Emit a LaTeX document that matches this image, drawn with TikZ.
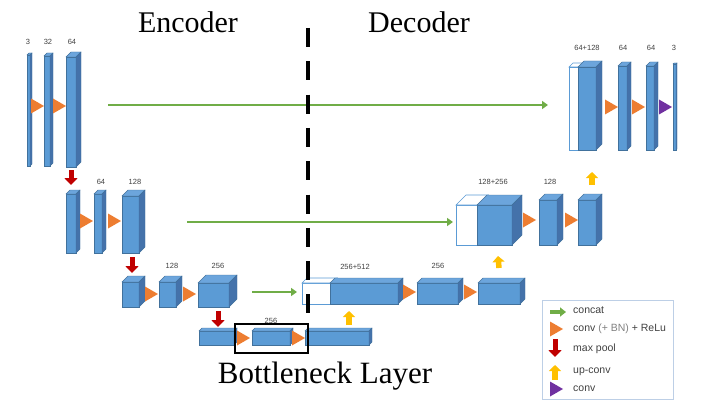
\documentclass[tikz,border=0pt]{standalone}
\usepackage{fontspec}
\setmainfont{Liberation Serif}
\setsansfont{Liberation Sans}
\usetikzlibrary{arrows.meta}
\definecolor{unetblue}{RGB}{91,155,213}
\definecolor{unettop}{RGB}{108,165,220}
\definecolor{unetside}{RGB}{68,114,170}
\definecolor{unetedge}{RGB}{65,113,156}
\definecolor{convorange}{RGB}{237,125,49}
\definecolor{concatgreen}{RGB}{112,173,71}
\definecolor{poolred}{RGB}{192,0,0}
\definecolor{upyellow}{RGB}{255,192,0}
\definecolor{convpurple}{RGB}{112,48,160}
\definecolor{legendblue}{RGB}{189,207,230}
\definecolor{labelgray}{RGB}{64,64,64}
\tikzset{
    bluefront/.style={draw=unetedge, fill=unetblue, line width=0.4pt,
        inner sep=0pt, outer sep=0pt},
    bluetop/.style={draw=unetedge, fill=unettop, line width=0.4pt},
    blueside/.style={draw=unetedge, fill=unetside, line width=0.4pt},
    whitefront/.style={draw=unetblue, fill=white, line width=0.6pt,
        inner sep=0pt, outer sep=0pt},
    whitetop/.style={draw=unetblue, fill=white, line width=0.6pt},
    whiteside/.style={draw=unetblue, fill=white, line width=0.6pt},
    sizelabel/.style={font=\sffamily\fontsize{7.5}{9}\selectfont,
        text=labelgray, inner sep=0pt},
    titletext/.style={font=\fontsize{30}{36}\selectfont, inner sep=0pt},
    concatarrow/.style={draw=concatgreen, line width=2.5pt,
        -{Triangle[width=8pt,length=6pt]}},
    poolarrow/.style={draw=poolred, line width=5pt,
        -{Triangle[width=13pt,length=7pt]}},
    upconvarrow/.style={draw=upyellow, line width=5.5pt,
        -{Triangle[width=12pt,length=6pt]}},
    encdecline/.style={line width=4.5pt, dash pattern=on 19pt off 14.3pt},
    bottleneckbox/.style={draw, line width=2.8pt, inner sep=0pt},
    legendbox/.style={draw=legendblue, line width=0.8pt, inner sep=0pt},
    legendtext/.style={font=\sffamily\fontsize{10.5}{12}\selectfont,
        text=labelgray, anchor=west, inner sep=0pt,
        text height=7.5pt, text depth=2pt},
    pics/convtri/.style={code={\fill[#1] (0pt,-7.5pt) -- (13pt,0pt)
        -- (0pt,7.5pt) -- cycle;}}
}
% style prefix, name, x, y (front top left), width, height, depth
\newcommand{\cuboid}[7]{%
    \node[#1front, minimum width=#5pt, minimum height=#6pt,
        anchor=north west] (#2) at (#3,#4) {};
    \filldraw[#1top] (#2.north west) -- ++(#7pt,#7pt) -- ++(#5pt,0pt)
        -- (#2.north east) -- cycle;
    \filldraw[#1side] (#2.north east) -- ++(#7pt,#7pt) -- ++(0pt,-#6pt)
        -- (#2.south east) -- cycle;
}
\begin{document}
\begin{tikzpicture}[x=1pt, y=-1pt]
    \useasboundingbox (0,0) rectangle (725,401);

    % encoder
    \cuboid{blue}{e1a}{27}{55}{3}{111}{2}
    \cuboid{blue}{e1b}{44}{56}{6}{110}{3}
    \cuboid{blue}{e1c}{66}{57}{10}{110}{5}
    \cuboid{blue}{e2a}{66}{194}{10}{59}{4}
    \cuboid{blue}{e2b}{94}{194}{8}{59}{4}
    \cuboid{blue}{e2c}{122}{196}{17}{57}{6}
    \cuboid{blue}{e3a}{122}{282}{17}{25}{6}
    \cuboid{blue}{e3b}{159}{282}{17}{25}{6}
    \cuboid{blue}{e3c}{198}{283}{31}{24}{8}

    % bottleneck
    \cuboid{blue}{b1}{199}{331}{35}{14}{3}
    \cuboid{blue}{b2}{252}{331}{38}{14}{3}
    \cuboid{blue}{b3}{305}{331}{64}{14}{3}

    % decoder
    \cuboid{white}{d3w}{302}{283}{30}{21}{5}
    \cuboid{blue}{d3a}{330}{283}{68}{21}{5}
    \cuboid{blue}{d3b}{417}{283}{41}{21}{5}
    \cuboid{blue}{d3c}{478}{283}{42}{21}{5}
    \cuboid{white}{d2w}{456}{205}{22}{40}{10}
    \cuboid{blue}{d2a}{477}{205}{35}{40}{10}
    \cuboid{blue}{d2b}{539}{200}{18}{45}{6}
    \cuboid{blue}{d2c}{578}{200}{18}{45}{6}
    \cuboid{white}{d1w}{569}{67}{10}{83}{4}
    \cuboid{blue}{d1a}{578}{67}{18}{83}{6}
    \cuboid{blue}{d1b}{618}{66}{9}{84}{4}
    \cuboid{blue}{d1c}{646}{66}{8}{84}{4}
    \cuboid{blue}{d1d}{673}{64}{3}{86}{1}

    % channel counts
    \node[sizelabel] (n1a) at (28,42) {3};
    \node[sizelabel] (n1b) at (48,42) {32};
    \node[sizelabel] (n1c) at (72,42) {64};
    \node[sizelabel] (n2b) at (101,182) {64};
    \node[sizelabel] (n2c) at (135,182) {128};
    \node[sizelabel] (n3b) at (172,266) {128};
    \node[sizelabel] (n3c) at (218,266) {256};
    \node[sizelabel] (nb2) at (271,321) {256};
    \node[sizelabel] (nd3a) at (355,267) {256+512};
    \node[sizelabel] (nd3b) at (438,266) {256};
    \node[sizelabel] (nd2a) at (493,182) {128+256};
    \node[sizelabel] (nd2b) at (550,182) {128};
    \node[sizelabel] (nd1a) at (587,48) {64+128};
    \node[sizelabel] (nd1b) at (623,48) {64};
    \node[sizelabel] (nd1c) at (651,48) {64};
    \node[sizelabel] (nd1d) at (674,48) {3};

    % conv steps
    \pic at (31,106) {convtri=convorange};
    \pic at (53,106) {convtri=convorange};
    \pic at (80,221) {convtri=convorange};
    \pic at (108,221) {convtri=convorange};
    \pic at (145,294) {convtri=convorange};
    \pic at (183,294) {convtri=convorange};
    \pic at (237,338) {convtri=convorange};
    \pic at (292,338) {convtri=convorange};
    \pic at (403,292) {convtri=convorange};
    \pic at (464,292) {convtri=convorange};
    \pic at (523,220) {convtri=convorange};
    \pic at (565,220) {convtri=convorange};
    \pic at (605,107) {convtri=convorange};
    \pic at (632,107) {convtri=convorange};
    \pic at (659,107) {convtri=convpurple};

    % skip connections
    \draw[concatarrow] ([xshift=32pt,yshift=7pt]e1c.east)
        -- ([xshift=-21pt,yshift=3.5pt]d1w.west);
    \draw[concatarrow] ([xshift=48pt,yshift=2.5pt]e2c.east)
        -- ([xshift=-3pt,yshift=3pt]d2w.west);
    \draw[concatarrow] ([xshift=23pt,yshift=3pt]e3c.east)
        -- ([xshift=-5pt,yshift=1.5pt]d3w.west);

    % max pool
    \draw[poolarrow] ([yshift=-3pt]e1c.south) -- ([yshift=9pt]e2a.north);
    \draw[poolarrow] ([xshift=1.5pt,yshift=-4pt]e2c.south)
        -- ([xshift=1.5pt,yshift=9pt]e3a.north);
    \draw[poolarrow] ([xshift=4.5pt,yshift=-4pt]e3c.south)
        -- ([xshift=1.5pt,yshift=4pt]b1.north);

    % up-conv
    \draw[upconvarrow] ([xshift=12pt,yshift=6pt]b3.north)
        -- ([xshift=-15pt,yshift=-7pt]d3a.south);
    \draw[upconvarrow] ([yshift=15pt]d3c.north)
        -- ([xshift=3.5pt,yshift=-11pt]d2a.south);
    \draw[upconvarrow] ([xshift=5pt,yshift=15pt]d2c.north)
        -- ([xshift=5pt,yshift=-22pt]d1a.south);

    % titles
    \node[titletext, anchor=base] (enc) at (188,33) {Encoder};
    \node[titletext, anchor=base] (dec) at (419,33) {Decoder};
    \node[titletext, anchor=base, font=\fontsize{31}{36}\selectfont]
        (bnlabel) at (325,383) {Bottleneck Layer};
    \node[bottleneckbox, minimum width=73pt, minimum height=29pt]
        (bneck) at (271.5,338.5) {};

    \draw[encdecline] (308,28) -- (308,314);

    % legend
    \node[legendbox, minimum width=131pt, minimum height=99pt,
        anchor=north west] (legend) at (542,300) {};
    \draw[concatarrow, line width=3.5pt, -{Triangle[width=9pt,length=6pt]}]
        ([xshift=8pt,yshift=-12pt]legend.north west) -- ++(16pt,0pt);
    \pic at ([xshift=8pt,yshift=-29pt]legend.north west) {convtri=convorange};
    \draw[poolarrow] ([xshift=13pt,yshift=-39pt]legend.north west) -- ++(0pt,-18pt);
    \draw[upconvarrow] ([xshift=13pt,yshift=-80pt]legend.north west) -- ++(0pt,15pt);
    \pic at ([xshift=8pt,yshift=-89pt]legend.north west) {convtri=convpurple};
    \node[legendtext] (lconcat) at (573,311) {concat};
    \node[legendtext] (lconv) at (573,329)
        {conv {\color{gray}(+ BN)} + ReLu};
    \node[legendtext] (lpool) at (573,349) {max pool};
    \node[legendtext] (lup) at (573,371) {up-conv};
    \node[legendtext] (lplain) at (573,389) {conv};
\end{tikzpicture}
\end{document}
